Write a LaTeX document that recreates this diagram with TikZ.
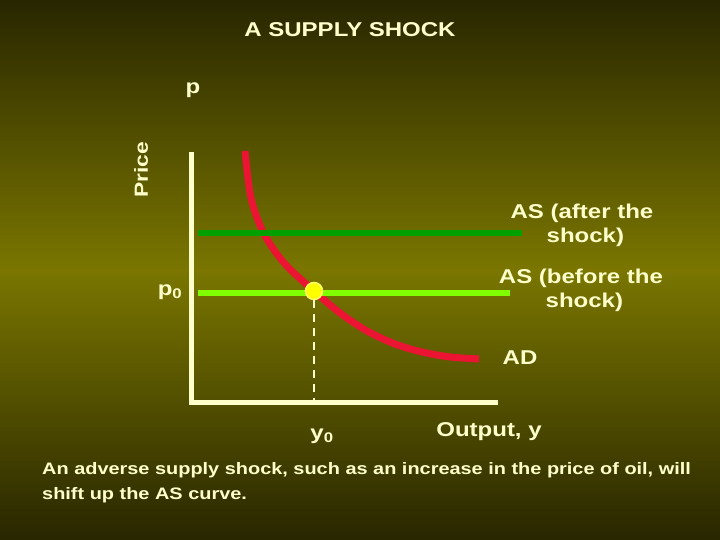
\documentclass[tikz,border=0pt]{standalone}
\usepackage{fontspec}
\setmainfont[FakeStretch=1.2]{Liberation Sans}
\usepackage{tikz}
\usetikzlibrary{positioning,calc}
\definecolor{bgdark}{RGB}{40,38,0}
\definecolor{bgmid}{RGB}{122,118,0}
\definecolor{cream}{RGB}{255,255,204}
\definecolor{asafter}{RGB}{0,160,0}
\definecolor{asbefore}{RGB}{128,255,0}
\definecolor{adred}{RGB}{235,20,50}
\definecolor{dotyellow}{RGB}{255,255,0}
\tikzset{
  lbl/.style={text=cream,font=\bfseries\fontsize{20}{24}\selectfont,inner sep=0pt,align=center},
  note/.style={text=cream,font=\bfseries\fontsize{16.6}{25}\selectfont,inner sep=0pt,align=left},
  axis/.style={draw=cream,line width=5pt},
  asline/.style={line width=6pt},
  adcurve/.style={draw=adred,line width=7pt},
  eqdot/.style={circle,fill=dotyellow,draw=dotyellow!60!white,line width=1.5pt,minimum size=17pt,inner sep=0pt},
  guide/.style={draw=cream,line width=2pt,dash pattern=on 8pt off 6pt}
}
\begin{document}
\begin{tikzpicture}[x=1pt,y=-1pt]
  \shade[top color=bgdark,bottom color=bgdark,middle color=bgmid] (0,0) rectangle (720,540);
  \useasboundingbox (0,0) rectangle (720,540);
  \node[lbl] (title) at (350,30) {A SUPPLY SHOCK};
  \coordinate (origin) at (191,402);
  \coordinate (ytop) at (191,152);
  \coordinate (xend) at (498,402);
  \node[lbl] (plabel) at (193,90) {p};
  \node[lbl,rotate=90,font=\bfseries\fontsize{19}{22}\selectfont] (price) at (141,170) {Price};
  \draw[adcurve] plot[smooth] coordinates {(245,151) (251,198) (264,234) (285,264) (314,291) (340,313) (367,331) (395,344) (422,352) (450,357) (479,359)};
  \coordinate (afterL) at (198,233);
  \coordinate (afterR) at (522,233);
  \coordinate (beforeL) at (198,293);
  \coordinate (beforeR) at (510,293);
  \draw[asline,asafter] (afterL) -- (afterR);
  \draw[asline,asbefore] (beforeL) -- (beforeR);
  \draw[axis] (ytop) -- (origin) -- (xend);
  \node[eqdot] (eq) at (314,291) {};
  \draw[guide] (eq.south) -- (eq.south |- origin);
  \node[lbl] (p0) at (170,292) {p\textsubscript{0}};
  \node[lbl] (y0) at (322,436) {y\textsubscript{0}};
  \node[lbl] (output) at (489,432) {Output, y};
  \node[lbl] (aslafter) at (582,225) {AS (after the\\ \,\,shock)};
  \node[lbl] (aslbefore) at (581,290) {AS (before the\\ \,\,shock)};
  \node[lbl] (adlabel) at (520,358) {AD};
  \node[note,anchor=north west] (caption) at (42,462) {An adverse supply shock, such as an increase in the price of oil, will\\shift up the AS curve.};
\end{tikzpicture}
\end{document}
